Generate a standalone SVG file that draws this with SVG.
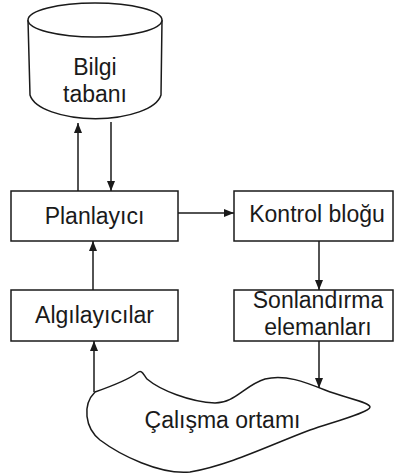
<svg xmlns="http://www.w3.org/2000/svg" width="394" height="476" viewBox="0 0 394 476">
<style>
.s{fill:#fff;stroke:#1a1a1a;stroke-width:1.5}
.c{fill:none;stroke:#1a1a1a;stroke-width:1.5}
.t{font-family:"Liberation Sans",Arial,sans-serif;font-size:23px;fill:#1a1a1a;text-anchor:middle}
</style>
<defs>
<marker id="ah" markerWidth="10" markerHeight="8" refX="10" refY="4" orient="auto" markerUnits="userSpaceOnUse">
<path d="M0,0 L10,4 L0,8 Z" fill="#1a1a1a"/>
</marker>
</defs>
<rect width="394" height="476" fill="#fff"/>
<g id="bilgi">
<path class="s" d="M28,20 L30,95 A66 27 0 0 0 161,95 L162,20"/>
<ellipse class="s" cx="95" cy="20" rx="67" ry="17"/>
<text class="t" x="95" y="75">Bilgi</text>
<text class="t" x="95" y="102">tabanı</text>
</g>
<g id="planlayici">
<rect class="s" x="11" y="191" width="167" height="50"/>
<text class="t" x="94.5" y="224">Planlayıcı</text>
</g>
<g id="kontrol">
<rect class="s" x="234" y="191" width="159" height="50"/>
<text class="t" x="317" y="222">Kontrol bloğu</text>
</g>
<g id="algilayicilar">
<rect class="s" x="11" y="290" width="167" height="51"/>
<text class="t" x="94.5" y="323">Algılayıcılar</text>
</g>
<g id="sonlandirma">
<rect class="s" x="234" y="290" width="159" height="51"/>
<text class="t" x="318" y="308">Sonlandırma</text>
<text class="t" x="318" y="335">elemanları</text>
</g>
<g id="ortam">
<path class="s" d="M95,392 C112,386 128,380 137,373 C142,369 143,374 147,379 C160,390 190,402 215,403 C235,403 245,385 265,379 C285,374 305,382 325,390 C345,398 370,402 370,407 C370,412 340,420 310,430 C270,445 230,465 190,472 C160,475 120,455 100,440 C85,428 82,405 95,392 Z"/>
<text class="t" x="222.5" y="428">Çalışma ortamı</text>
</g>
<g id="connectors">
<line class="c" x1="78" y1="191" x2="78" y2="123" marker-end="url(#ah)"/>
<line class="c" x1="111" y1="122" x2="111" y2="191" marker-end="url(#ah)"/>
<line class="c" x1="178" y1="213" x2="234" y2="213" marker-end="url(#ah)"/>
<line class="c" x1="319" y1="241" x2="319" y2="290" marker-end="url(#ah)"/>
<line class="c" x1="93" y1="290" x2="93" y2="241" marker-end="url(#ah)"/>
<line class="c" x1="94" y1="392" x2="94" y2="341" marker-end="url(#ah)"/>
<line class="c" x1="319" y1="341" x2="319" y2="388" marker-end="url(#ah)"/>
</g>
</svg>
